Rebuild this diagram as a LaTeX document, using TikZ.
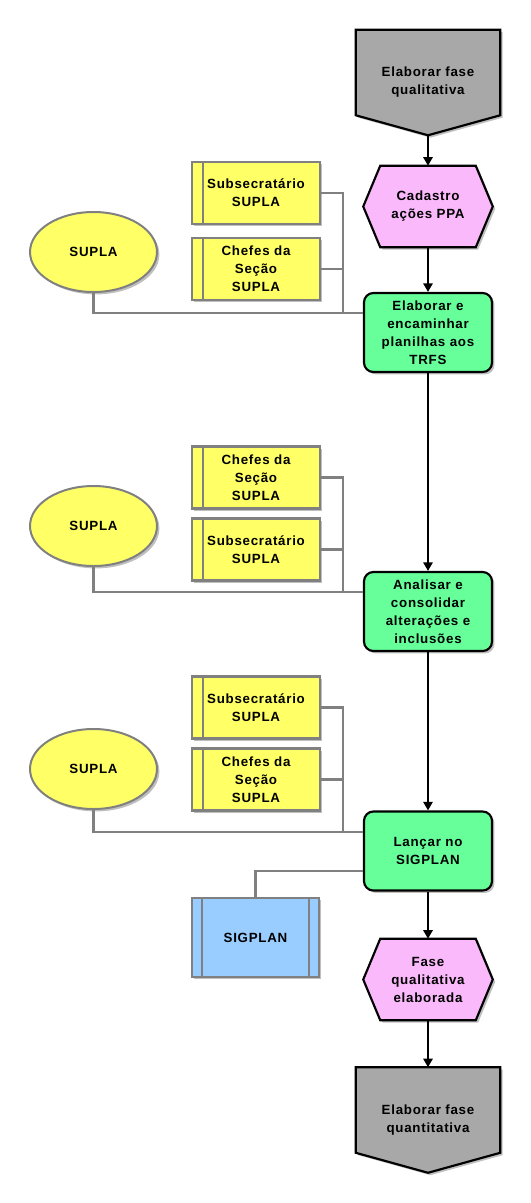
\documentclass[tikz,border=0pt]{standalone}
\usepackage{fontspec}
\setmainfont{Liberation Sans}[LetterSpace=5.5]
\usetikzlibrary{arrows.meta,positioning,shapes.geometric,shadows,backgrounds}
\definecolor{evgray}{RGB}{168,168,168}
\definecolor{hexpink}{RGB}{250,185,250}
\definecolor{fngreen}{RGB}{102,255,153}
\definecolor{orgyellow}{RGB}{255,255,102}
\definecolor{sysblue}{RGB}{153,204,255}
\definecolor{lngray}{RGB}{128,128,128}

\begin{document}
\begin{tikzpicture}[x=0.75pt,y=-0.75pt,>={Triangle[length=6.5pt,width=7pt]},
  txt/.style={font=\bfseries\fontsize{10}{13.5}\selectfont,align=center,inner sep=0pt},
  shd/.style={drop shadow={shadow xshift=1.8pt,shadow yshift=-1.8pt,fill=black!25,opacity=1}},
  evbox/.style={txt,minimum width=108pt,minimum height=78.75pt},
  hexbox/.style={txt,minimum width=96.75pt,minimum height=60.75pt},
  fnbox/.style={txt,draw,line width=1.6pt,fill=fngreen,rounded corners=7pt,minimum width=96pt,minimum height=59.25pt,shd},
  orgbox/.style={txt,draw=lngray,line width=1.6pt,fill=orgyellow,minimum width=96pt,minimum height=46.5pt,shd},
  orgunit/.style={txt,ellipse,draw=lngray,line width=1.5pt,fill=orgyellow,minimum width=95.25pt,minimum height=60pt,shd},
  sysbox/.style={txt,draw=lngray,line width=1.6pt,fill=sysblue,minimum width=95.25pt,minimum height=59.25pt,shd},
  flow/.style={->,line width=1.6pt},
  orgln/.style={line width=1.6pt,lngray},
  shapeln/.style={line width=1.6pt,shd}]
  \useasboundingbox (0,0) rectangle (531,1203);

  \node[evbox] (ev1) at (428,82.5) {Elaborar fase\\qualitativa};
  \node[hexbox] (hx1) at (428,206.5) {Cadastro\\ações PPA};
  \node[fnbox] (gr1) at (428,332.5) {Elaborar e\\encaminhar\\planilhas aos\\TRFS};
  \node[fnbox] (gr2) at (428,611.5) {Analisar e\\consolidar\\alterações e\\inclusões};
  \node[fnbox] (gr3) at (428,851) {Lançar no\\SIGPLAN};
  \node[hexbox] (hx2) at (428,979.5) {Fase\\qualitativa\\elaborada};
  \node[evbox] (ev2) at (428,1120) {Elaborar fase\\quantitativa};

  \begin{pgfonlayer}{background}
    \foreach \ev in {ev1,ev2}
      \filldraw[shapeln,fill=evgray] (\ev.north west) -- (\ev.north east)
        -- ([yshift=15pt]\ev.south east) -- (\ev.south)
        -- ([yshift=15pt]\ev.south west) -- cycle;
    \foreach \hx in {hx1,hx2}
      \filldraw[shapeln,fill=hexpink] ([xshift=12.75pt]\hx.north west)
        -- ([xshift=-12.75pt]\hx.north east) -- (\hx.east)
        -- ([xshift=-12.75pt]\hx.south east) -- ([xshift=12.75pt]\hx.south west)
        -- (\hx.west) -- cycle;
  \end{pgfonlayer}

  \node[orgbox] (sub1) at (256,193) {Subsecratário\\SUPLA};
  \node[orgbox] (chef1) at (256,269) {Chefes da\\Seção\\SUPLA};
  \node[orgunit] (org1) at (93.5,252) {SUPLA};
  \node[orgbox] (chef2) at (256,477.5) {Chefes da\\Seção\\SUPLA};
  \node[orgbox] (sub2) at (256,549.5) {Subsecratário\\SUPLA};
  \node[orgunit] (org2) at (93.5,526) {SUPLA};
  \node[orgbox] (sub3) at (256,707.5) {Subsecratário\\SUPLA};
  \node[orgbox] (chef3) at (256,779.5) {Chefes da\\Seção\\SUPLA};
  \node[orgunit] (org3) at (93.5,769) {SUPLA};
  \node[sysbox] (sys) at (255.5,937.5) {SIGPLAN};

  \foreach \n in {sub1,chef1,sub2,chef2,sub3,chef3}
    \draw[lngray,line width=1.4pt] ([xshift=9pt]\n.north west) -- ([xshift=9pt]\n.south west);
  \draw[lngray,line width=1.4pt] ([xshift=8.25pt]sys.north west) -- ([xshift=8.25pt]sys.south west);
  \draw[lngray,line width=1.4pt] ([xshift=-8.25pt]sys.north east) -- ([xshift=-8.25pt]sys.south east);

  \coordinate (b1) at ([yshift=14.6pt]gr1.west);
  \coordinate (b2) at ([yshift=14.6pt]gr2.west);
  \coordinate (b3) at ([yshift=14.3pt]gr3.west);
  \foreach \i in {1,2,3} {
    \draw[orgln] (sub\i.east) -- ++(22,0) |- (b\i);
    \draw[orgln] (chef\i.east) -- ++(22,0) |- (b\i);
    \draw[orgln] (org\i.south) |- (b\i);
  }
  \draw[orgln] ([yshift=-15pt]gr3.west) -| (sys.north);

  \draw[flow] (ev1.south) -- (hx1.north);
  \draw[flow] (hx1.south) -- (gr1.north);
  \draw[flow] (gr1.south) -- (gr2.north);
  \draw[flow] (gr2.south) -- (gr3.north);
  \draw[flow] (gr3.south) -- (hx2.north);
  \draw[flow] (hx2.south) -- (ev2.north);
\end{tikzpicture}
\end{document}
